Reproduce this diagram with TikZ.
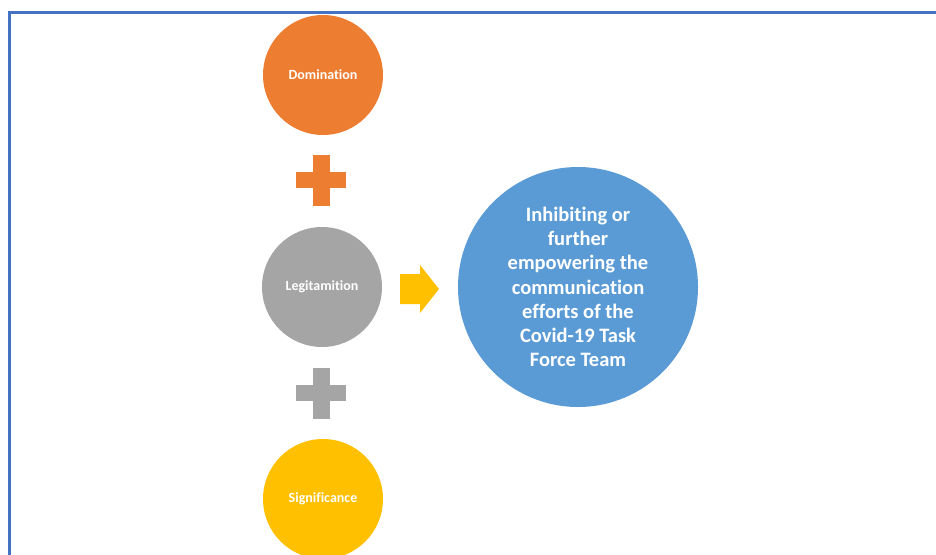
\documentclass[tikz,border=0pt]{standalone}
\usepackage{fontspec}
\setmainfont{Carlito}[RawFeature={-liga;-clig}]
\definecolor{frameblue}{HTML}{4472C4}
\definecolor{accorange}{HTML}{ED7D31}
\definecolor{accgray}{HTML}{A5A5A5}
\definecolor{accyellow}{HTML}{FFC000}
\definecolor{accblue}{HTML}{5B9BD5}
\tikzset{
  factor/.style={circle, minimum size=120pt, inner sep=0pt, text=white,
    font=\fontsize{14}{16}\selectfont\bfseries},
  outcome/.style={circle, minimum size=240pt, inner sep=0pt, text=white, align=center,
    fill=accblue, font=\fontsize{20.5}{24.2}\selectfont\bfseries},
}
% draws a plus sign of given colour centred at a coordinate
\newcommand{\plussign}[2]{%
  \fill[#2] ([xshift=-25pt,yshift=-8pt]#1) rectangle ([xshift=25pt,yshift=8pt]#1);
  \fill[#2] ([xshift=-8.5pt,yshift=-25.5pt]#1) rectangle ([xshift=8.5pt,yshift=25.5pt]#1);}
\begin{document}
\begin{tikzpicture}[x=1pt,y=-1pt]
  \useasboundingbox (0,0) rectangle (936,554);
  % frame
  \draw[frameblue, line width=2.6pt] (9.3,556) -- (9.3,12.3) -- (938,12.3);
  % factors
  \node[factor, fill=accorange] (dom) at (323,75) {Domination};
  \node[factor, fill=accgray] (leg) at (322,287) {Legitamition};
  \node[factor, fill=accyellow] (sig) at (323,499) {Significance};
  % plus signs between the factors
  \coordinate (p1) at (321,180);
  \coordinate (p2) at (321,393);
  \plussign{p1}{accorange}
  \plussign{p2}{accgray}
  % outcome
  \node[outcome] (out) at (578,287) {Inhibiting or\\further\\empowering the\\communication\\efforts of the\\Covid-19 Task\\Force Team};
  % arrow towards the outcome
  \coordinate (a0) at (400,289);
  \fill[accyellow] (a0) ++(0,-15) -- ++(20,0) -- ++(0,-9) -- (439,289) -- (420,313) -- (420,304) -- (400,304) -- cycle;
\end{tikzpicture}
\end{document}
